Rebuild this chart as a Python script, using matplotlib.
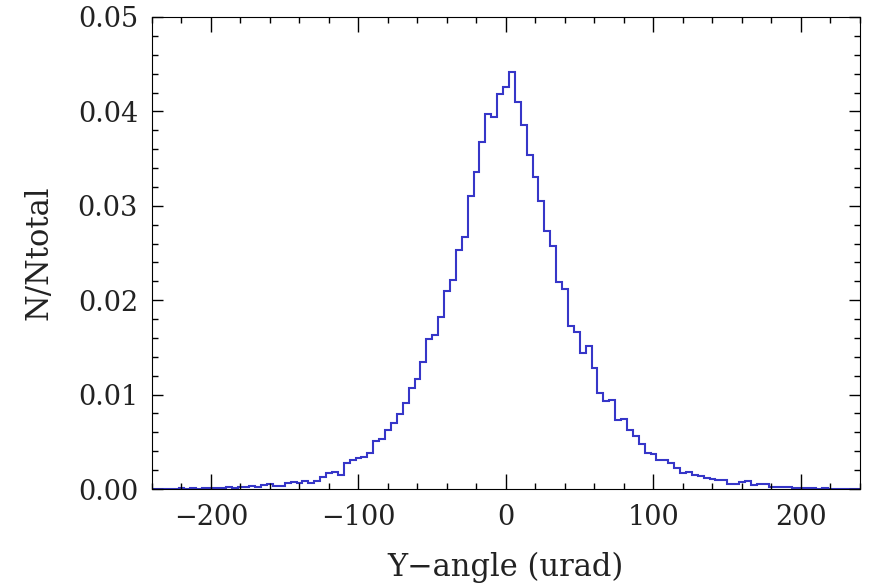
import matplotlib
matplotlib.use("Agg")
import matplotlib.pyplot as plt
import numpy as np
from matplotlib.ticker import MultipleLocator

# bin centres -240 .. 240, width 4 urad
centers = np.arange(-240, 241, 4)
values = [
    0.0, 0.0, 0.00005, 0.0, 0.00005, 0.0001, 0.00005, 0.0001, 0.00005, 0.0001,
    0.0001, 0.00015, 0.0001, 0.0002, 0.00015, 0.0002, 0.0002, 0.0003, 0.00025, 0.0004,
    0.0005, 0.0003, 0.0003, 0.0006, 0.0007, 0.0006, 0.0008, 0.0006, 0.0008, 0.0013,
    0.0017, 0.0018, 0.0015, 0.0028, 0.0031, 0.0033, 0.0034, 0.0038, 0.0051, 0.0053,
    0.0062, 0.0070, 0.0079, 0.0091, 0.0107, 0.0117, 0.0135, 0.0159, 0.0163, 0.0182,
    0.0210, 0.0221, 0.0253, 0.0267, 0.0310, 0.0336, 0.0368, 0.0397, 0.0394, 0.0418,
    0.0426, 0.0442, 0.0410, 0.0386, 0.0354, 0.0331, 0.0305, 0.0273, 0.0257, 0.0219,
    0.0212, 0.0173, 0.0166, 0.0144, 0.0151, 0.0128, 0.0102, 0.0093, 0.0094, 0.0073,
    0.0074, 0.0063, 0.0056, 0.0048, 0.0038, 0.0037, 0.0031, 0.0031, 0.0028, 0.0022,
    0.0017, 0.0018, 0.0015, 0.0014, 0.0012, 0.0011, 0.0010, 0.0010, 0.0005, 0.0005,
    0.0007, 0.0008, 0.0004, 0.0005, 0.0005, 0.0002, 0.0002, 0.0002, 0.0002, 0.0001,
    0.0001, 0.0001, 0.0001, 0.00005, 0.0001, 0.00005, 0.0, 0.00005, 0.0, 0.0,
    0.0,
]
edges = np.append(centers - 2, centers[-1] + 2)

plt.rcParams['font.family'] = ['DejaVu Serif']

fig = plt.figure(figsize=(8.7, 5.86), dpi=100)
ax = fig.add_axes([0.1747, 0.1655, 0.8138, 0.8055])

ax.stairs(values, edges, color='#3636c8', lw=1.5)

ax.set_xlim(-240, 240)
ax.set_ylim(0, 0.05)
ax.xaxis.set_major_locator(MultipleLocator(100))
ax.xaxis.set_minor_locator(MultipleLocator(20))
ax.yaxis.set_major_locator(MultipleLocator(0.01))
ax.yaxis.set_minor_locator(MultipleLocator(0.002))
ax.yaxis.set_major_formatter(plt.FormatStrFormatter('%.2f'))

ax.tick_params(axis='both', which='both', direction='in', top=True, right=True,
               labelsize=19.5, width=1, labelcolor='#222222')
ax.tick_params(axis='x', which='major', length=11, pad=11)
ax.tick_params(axis='x', which='minor', length=4.5)
ax.tick_params(axis='y', which='major', length=8, pad=10)
ax.tick_params(axis='y', which='minor', length=4)

ax.set_xlabel('Y\u2212angle (urad)', fontsize=22, labelpad=15, color='#222222')
ax.set_ylabel('N/Ntotal', fontsize=22, labelpad=17, color='#222222')

fig.savefig('out.png', dpi=100)
